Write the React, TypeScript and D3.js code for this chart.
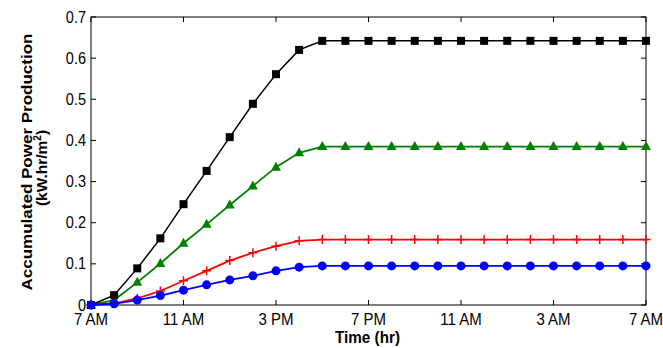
import React from "react";
import * as d3 from "d3";

const hours = d3.range(0, 25);
const plateau = (arr: number[], v: number) => arr.concat(new Array(25 - arr.length).fill(v));
const blackSeries = plateau([0, 0.024, 0.089, 0.162, 0.245, 0.326, 0.408, 0.489, 0.561, 0.62], 0.642);
const greenSeries = plateau([0, 0.012, 0.055, 0.101, 0.15, 0.196, 0.243, 0.289, 0.335, 0.37], 0.385);
const redSeries = plateau([0, 0.004, 0.016, 0.034, 0.059, 0.083, 0.108, 0.127, 0.143, 0.156], 0.159);
const blueSeries = plateau([0, 0.003, 0.012, 0.023, 0.036, 0.049, 0.061, 0.071, 0.083, 0.092], 0.095);
const xTickHours = [0, 4, 8, 12, 16, 20, 24];
const xTickLabels = ["7 AM", "11 AM", "3 PM", "7 PM", "11 AM", "3 AM", "7 AM"];
const yTicks = [0, 0.1, 0.2, 0.3, 0.4, 0.5, 0.6, 0.7];

const W = 663, H = 348;
const L = 91, R = 646, T = 17, B = 305;

export default function App() {
  const x = d3.scaleLinear().domain([0, 24]).range([L, R]);
  const y = d3.scaleLinear().domain([0, 0.7]).range([B, T]);
  const line = d3.line<number>().x((_, i) => x(hours[i])).y((d) => y(d));
  const font = "'Liberation Sans', Arial, sans-serif";

  const series = [
    { data: greenSeries, color: "#008000", marker: "tri", w: 1.8 },
    { data: blackSeries, color: "#000000", marker: "sq", w: 1.5 },
    { data: redSeries, color: "#ff0000", marker: "plus", w: 1.8 },
    { data: blueSeries, color: "#0000ff", marker: "circ", w: 1.8 },
  ];

  const marker = (m: string, cx: number, cy: number, c: string, k: number) => {
    if (m === "sq") return <rect key={k} x={cx - 4} y={cy - 4} width={8} height={8} fill={c} />;
    if (m === "circ") return <circle key={k} cx={cx} cy={cy} r={4.5} fill={c} />;
    if (m === "tri")
      return <path key={k} d={`M${cx},${cy - 5.5}L${cx + 5},${cy + 3.5}L${cx - 5},${cy + 3.5}Z`} fill={c} />;
    return (
      <path key={k} d={`M${cx - 4.5},${cy}H${cx + 4.5}M${cx},${cy - 4.5}V${cy + 4.5}`} stroke={c} strokeWidth={1.5} />
    );
  };

  return (
    <svg width={W} height={H} style={{ position: "absolute", left: 0, top: 0, background: "#fff" }}>
      <rect x={0} y={0} width={W} height={H} fill="#fff" />
      <rect x={L} y={T} width={R - L} height={B - T} fill="none" stroke="#000" strokeWidth={1} />
      {yTicks.map((t) => (
        <g key={t}>
          <line x1={L} x2={L + 5} y1={y(t)} y2={y(t)} stroke="#000" />
          <line x1={R} x2={R - 5} y1={y(t)} y2={y(t)} stroke="#000" />
          <g transform={`translate(${L - 5},${y(t) + 5.5}) scale(1,1.12)`}>
            <text x={0} y={0} textAnchor="end" fontFamily={font} fontSize={14.5} fill="#000">
              {t === 0 ? "0" : t.toFixed(1)}
            </text>
          </g>
        </g>
      ))}
      {xTickHours.map((h, i) => (
        <g key={i}>
          <line x1={x(h)} x2={x(h)} y1={B} y2={B - 5} stroke="#000" />
          <line x1={x(h)} x2={x(h)} y1={T} y2={T + 5} stroke="#000" />
          <g transform={`translate(${x(h)},${B + 20}) scale(1,1.12)`}>
            <text x={0} y={0} textAnchor="middle" fontFamily={font} fontSize={15} fill="#000">
              {xTickLabels[i]}
            </text>
          </g>
        </g>
      ))}
      {series.map((s, si) => (
        <g key={si}>
          <path d={line(s.data) || ""} fill="none" stroke={s.color} strokeWidth={s.w} />
          {s.data.map((v, i) => marker(s.marker, x(hours[i]), y(v), s.color, i))}
        </g>
      ))}
      <g transform={`translate(${(L + R) / 2 - 1},343) scale(1,1.15)`}>
        <text x={0} y={0} textAnchor="middle" fontFamily={font} fontSize={15} fontWeight="bold"
          textLength={65} lengthAdjust="spacingAndGlyphs">
          Time (hr)
        </text>
      </g>
      <g transform={`translate(32,162) rotate(-90)`}>
        <text x={0} y={0} textAnchor="middle" fontFamily={font} fontSize={15.5} fontWeight="bold"
          textLength={257} lengthAdjust="spacingAndGlyphs">
          Accumulated Power Production
        </text>
        <text x={-6} y={15} textAnchor="middle" fontFamily={font} fontSize={15.5} fontWeight="bold">
          (kW.hr/m<tspan dy={-6} fontSize={10}>2</tspan><tspan dy={6}>)</tspan>
        </text>
      </g>
    </svg>
  );
}
